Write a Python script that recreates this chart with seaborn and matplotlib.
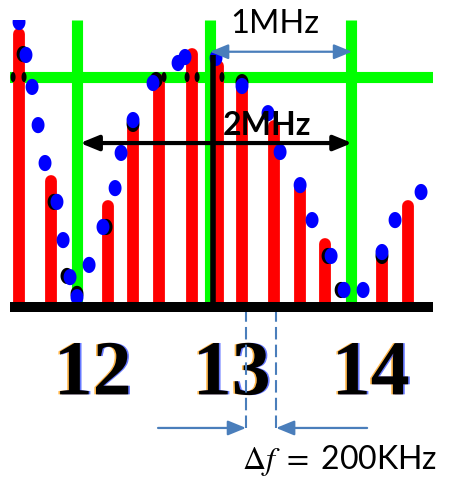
import numpy as np
import pandas as pd
import matplotlib
matplotlib.use("Agg")
import matplotlib.pyplot as plt
import matplotlib.patheffects as pe
from matplotlib.path import Path
from matplotlib.patches import ArrowStyle
import seaborn as sns

# ---- data (frequency in MHz, amplitude relative to the reference level) ----
stem_freq = [11.470, 11.700, 12.110, 12.290, 12.477, 12.715, 12.902,
             13.074, 13.305, 13.492, 13.671, 14.081, 14.269]
stem_amp = [1.187, 0.548, 0.439, 0.787, 0.987, 1.100, 1.048,
            0.961, 0.787, 0.513, 0.274, 0.243, 0.439]

spec_freq = [11.470, 11.520, 11.564, 11.607, 11.657, 11.743, 11.787, 11.837,
             11.887, 11.974, 12.074, 12.161, 12.204, 12.290, 12.434, 12.614,
             12.664, 12.887, 13.074, 13.261, 13.348, 13.492, 13.578, 13.715,
             13.808, 13.945, 14.081, 14.175, 14.362]
spec_amp = [1.239, 1.096, 0.957, 0.791, 0.626, 0.457, 0.291, 0.130,
            0.043, 0.183, 0.348, 0.517, 0.670, 0.813, 0.974, 1.061,
            1.087, 1.083, 0.961, 0.843, 0.674, 0.530, 0.378, 0.222,
            0.074, 0.074, 0.239, 0.378, 0.500]

# earlier (dark) sample set lying just behind the blue one
prev_freq = [11.499, 11.722, 11.815, 11.887, 12.096, 12.290, 12.456,
             13.074, 13.693, 13.787, 14.081]
prev_amp = [1.100, 0.457, 0.135, 0.057, 0.348, 0.796, 0.987,
            0.978, 0.222, 0.074, 0.222]

# dark marks where the stems cross the reference level
edge_freq = [11.427, 11.506, 12.513, 12.679, 12.751, 12.930]
edge_amp = [1.0, 1.0, 1.0, 1.0, 1.0, 1.0]

channel_centres = [11.887, 12.844, 13.858]
ref_level = 1.0
carrier_freq = 12.866
carrier_amp = 1.096
channel_ticks = [12, 13, 14]
channel_labels = ["12", "13", "14"]

span_1mhz = (12.844, 13.866)
span_2mhz = (11.909, 13.866)
spacing_marks = (13.103, 13.319)
spacing_tails = (12.470, 13.974)

# ---- styling ----
sns.set_theme(style="white")
plt.rcParams["font.family"] = ["Lato", "DejaVu Sans"]
plt.rcParams["mathtext.fontset"] = "stix"

W, H = 450, 479
fig = plt.figure(figsize=(W / 100, H / 100), dpi=100)
fig.patch.set_facecolor("white")
ax = fig.add_axes([10 / W, 1 - 307 / H, 423 / W, 287 / H])
ax.set_facecolor("white")
ax.set_xlim(11.405, 14.448)
ax.set_ylim(0, 1.248)

GREEN = "#00FF00"
RED = "#FF0000"
BLUE = "#0000FF"
STEEL = "#4A7EBB"

# channel grid
for c in channel_centres:
    ax.axvline(c, color=GREEN, lw=8, zorder=1, solid_capstyle="butt")
ax.axhline(ref_level, color=GREEN, lw=8, zorder=1)

# subcarrier stems
stems = ax.vlines(stem_freq, 0.02, stem_amp, colors=RED, lw=8.5, zorder=2)
stems.set_capstyle("round")

# carrier marker
ax.vlines([carrier_freq], 0.0, [carrier_amp], colors="black", lw=4, zorder=6)

# spectrum samples
theta = np.linspace(0, 2 * np.pi, 60)
oval = Path(np.c_[0.8 * np.cos(theta), np.sin(theta)], closed=True)
slim = Path(np.c_[0.5 * np.cos(theta), np.sin(theta)], closed=True)

df_prev = pd.DataFrame({"f": prev_freq, "a": prev_amp})
df_edge = pd.DataFrame({"f": edge_freq, "a": edge_amp})
df_spec = pd.DataFrame({"f": spec_freq, "a": spec_amp})

sns.scatterplot(data=df_prev, x="f", y="a", ax=ax, marker=oval, s=135,
                color="black", edgecolor="none", linewidth=0, zorder=3,
                legend=False)
sns.scatterplot(data=df_edge, x="f", y="a", ax=ax, marker=slim, s=52,
                color="black", edgecolor="none", linewidth=0, zorder=3,
                legend=False)
sns.scatterplot(data=df_spec, x="f", y="a", ax=ax, marker=oval, s=135,
                color=BLUE, edgecolor="none", linewidth=0, zorder=4,
                legend=False)

# axes frame: only the thick baseline
for side in ["top", "left", "right"]:
    ax.spines[side].set_visible(False)
ax.spines["bottom"].set_color("black")
ax.spines["bottom"].set_linewidth(7.2)
ax.spines["bottom"].set_capstyle("butt")
ax.spines["bottom"].set_zorder(5)
ax.set_yticks([])
ax.set_xlabel("")
ax.set_ylabel("")
ax.set_xticks(channel_ticks)
ax.set_xticklabels(channel_labels, fontfamily="Liberation Serif",
                   fontweight="bold", fontsize=56, color="black")
ax.tick_params(axis="x", length=0, pad=24)
for lab in ax.get_xticklabels():
    lab.set_path_effects([
        pe.SimplePatchShadow(offset=(-1.2, 0), shadow_rgbFace=(1.0, 0.6, 0.0), alpha=0.7),
        pe.SimplePatchShadow(offset=(1.2, 0), shadow_rgbFace=(0.15, 0.25, 1.0), alpha=0.7),
        pe.Normal(),
    ])

head = ArrowStyle("<|-|>", head_length=11, head_width=4.5)
head_one = ArrowStyle("-|>", head_length=11, head_width=4.5)

# 1 MHz span
ax.annotate("", xy=(span_1mhz[1], 1.110), xytext=(span_1mhz[0], 1.110),
            arrowprops=dict(arrowstyle=head, mutation_scale=1, color=STEEL,
                            lw=1.6, shrinkA=0, shrinkB=0),
            annotation_clip=False, zorder=7)
ax.text(12.988, 1.191, "1MHz", fontsize=23.5, color="black", ha="left",
        va="baseline", clip_on=False, zorder=8)

# 2 MHz span
ax.annotate("", xy=(span_2mhz[1], 0.713), xytext=(span_2mhz[0], 0.713),
            arrowprops=dict(arrowstyle=head, mutation_scale=1, color="black",
                            lw=3, shrinkA=0, shrinkB=0),
            annotation_clip=False, zorder=7)
ax.text(12.938, 0.748, "2MHz", fontsize=23, fontweight="bold", color="black",
        ha="left", va="baseline", clip_on=False, zorder=8)

# subcarrier spacing
ax.vlines(list(spacing_marks), -0.526, 0.0, colors=STEEL, lw=1.5,
          linestyles=(0, (6, 2.5)), zorder=1, clip_on=False)
for mark, tail in zip(spacing_marks, spacing_tails):
    ax.annotate("", xy=(mark, -0.526), xytext=(tail, -0.526),
                arrowprops=dict(arrowstyle=head_one, mutation_scale=1,
                                color=STEEL, lw=1.6, shrinkA=0, shrinkB=0),
                annotation_clip=False)
ax.text(13.074, -0.705, r"$\Delta f\ =\ $200KHz", fontsize=23, color="black",
        ha="left", va="baseline", clip_on=False)

fig.savefig("out.png", dpi=100, facecolor="white")
